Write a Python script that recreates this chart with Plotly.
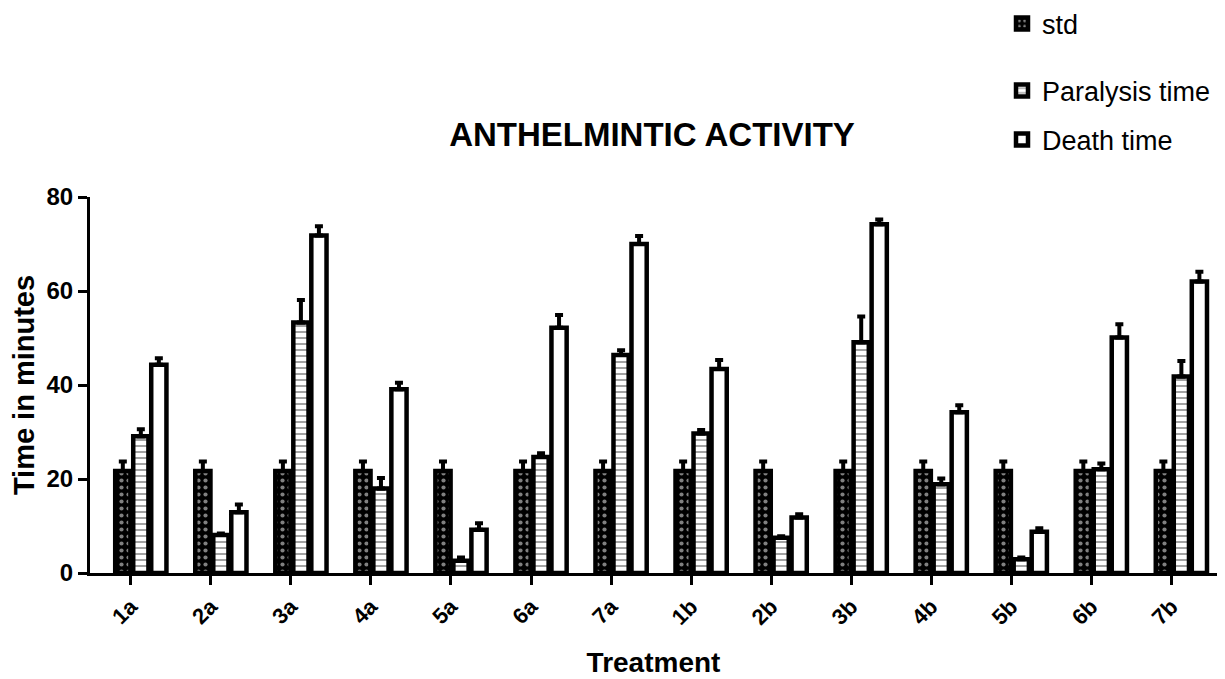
import plotly.graph_objects as go

categories = ["1a", "2a", "3a", "4a", "5a", "6a", "7a", "1b", "2b", "3b", "4b", "5b", "6b", "7b"]

std_vals = [21.7] * 14
std_err = [2.0] * 14

paralysis_vals = [29.1, 8.1, 53.3, 18.0, 2.6, 24.7, 46.4, 29.7, 7.5, 49.1, 18.9, 2.9, 22.1, 41.8]
paralysis_err = [1.5, 0.3, 4.8, 2.2, 0.7, 0.8, 1.0, 0.7, 0.3, 5.5, 1.2, 0.4, 1.2, 3.3]

death_vals = [44.3, 12.9, 71.8, 39.1, 9.2, 52.2, 70.0, 43.4, 11.8, 74.2, 34.2, 8.8, 50.1, 62.0]
death_err = [1.4, 1.7, 2.0, 1.4, 1.4, 2.7, 1.7, 1.9, 0.7, 1.0, 1.5, 0.7, 2.8, 2.1]

FONT = "Liberation Sans, Arial, sans-serif"
BW = 0.19

def err(arr):
    return dict(type="data", symmetric=False, array=arr, arrayminus=[0] * len(arr),
                color="black", thickness=4, width=4)

fig = go.Figure()
fig.add_trace(go.Bar(
    x=categories, y=std_vals, name="std", width=BW, offset=-0.195,
    marker=dict(color="black", line=dict(color="black", width=4.5),
                pattern=dict(shape=".", fgcolor="white", bgcolor="black", size=7, solidity=0.28)),
    error_y=err(std_err), legend="legend",
))
fig.add_trace(go.Bar(
    x=categories, y=paralysis_vals, name="Paralysis time", width=BW, offset=0.03,
    marker=dict(color="white", line=dict(color="black", width=4.5),
                pattern=dict(shape="-", fgcolor="#333333", bgcolor="white", size=6, solidity=0.3)),
    error_y=err(paralysis_err), legend="legend2",
))
fig.add_trace(go.Bar(
    x=categories, y=death_vals, name="Death time", width=BW, offset=0.255,
    marker=dict(color="white", line=dict(color="black", width=4.5)),
    error_y=err(death_err), legend="legend3",
))

leg_common = dict(font=dict(family=FONT, size=27, color="black"), xref="container", yref="container",
                  xanchor="left", yanchor="middle", bgcolor="rgba(0,0,0,0)", borderwidth=0)
lx = 994 / 1225

fig.update_layout(
    width=1225, height=679,
    margin=dict(l=82, r=16, t=189, b=114, autoexpand=False),
    paper_bgcolor="white", plot_bgcolor="white",
    barmode="overlay",
    showlegend=True,
    legend=dict(x=lx, y=1 - 16 / 679, **leg_common),
    legend2=dict(x=lx, y=1 - 83 / 679, **leg_common),
    legend3=dict(x=lx, y=1 - 132 / 679, **leg_common),
    title=dict(text="ANTHELMINTIC ACTIVITY", x=644 / 1225, xanchor="center",
               y=1 - 126 / 679, yanchor="middle", xref="container", yref="container",
               font=dict(family=FONT, size=33, color="black", weight="bold")),
    xaxis=dict(
        type="category", range=[-0.51, 13.57], automargin=False,
        showline=True, linecolor="black", linewidth=3,
        ticks="outside", ticklen=9, tickwidth=3, tickcolor="black",
        tickangle=-45, showgrid=False, zeroline=False,
        tickfont=dict(family=FONT, size=22, color="black", weight="bold"),
        title=dict(text="Treatment", standoff=24,
                   font=dict(family=FONT, size=28, color="black", weight="bold")),
    ),
    yaxis=dict(
        range=[0, 80], tickvals=[0, 20, 40, 60, 80], automargin=False,
        showline=True, linecolor="black", linewidth=3,
        ticks="outside", ticklen=9, tickwidth=3, tickcolor="black",
        showgrid=False, zeroline=False,
        tickfont=dict(family=FONT, size=24, color="black", weight="bold"),
        title=dict(text="Time in minutes", standoff=10,
                   font=dict(family=FONT, size=29, color="black", weight="bold")),
    ),
)

fig.write_html("out.html")
